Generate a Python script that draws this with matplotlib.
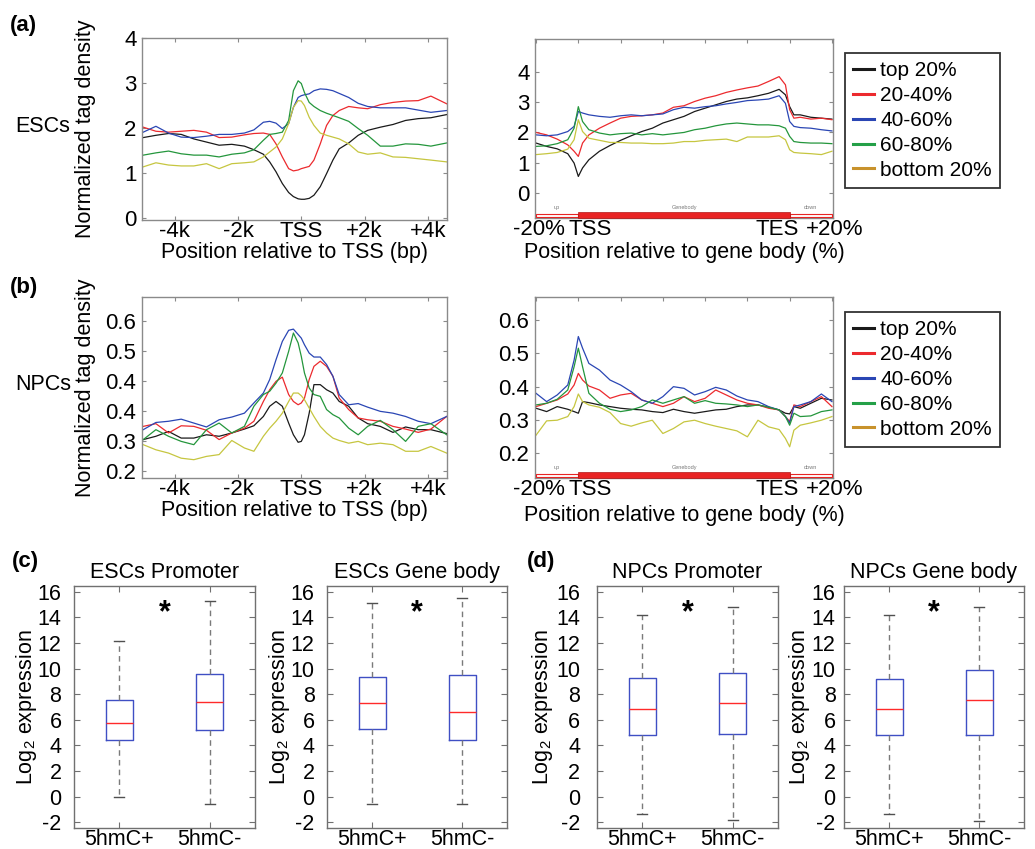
import matplotlib
matplotlib.use('Agg')
import matplotlib.pyplot as plt
from matplotlib.lines import Line2D
from matplotlib.patches import Rectangle
import matplotlib.transforms as mtransforms

plt.rcParams['font.family'] = ['Liberation Sans', 'DejaVu Sans']
plt.rcParams['mathtext.fontset'] = 'custom'
plt.rcParams['mathtext.rm'] = 'Liberation Sans'
plt.rcParams['mathtext.it'] = 'Liberation Sans:italic'
plt.rcParams['mathtext.bf'] = 'Liberation Sans:bold'
plt.rcParams['axes.unicode_minus'] = False

# ---------------- data ----------------
series_labels = ['top 20%', '20-40%', '40-60%', '60-80%', 'bottom 20%']
line_colors = ['#1a1a1a', '#ec2a2e', '#2a46b4', '#24963c', '#c6c640']
legend_colors = ['#1a1a1a', '#ec2a2e', '#2a46b4', '#24a048', '#c8922c']

# position relative to TSS (bp)
tss_pos = [-5000, -4600, -4200, -3800, -3400, -3000, -2600, -2200, -1800, -1500,
           -1200, -1000, -800, -600, -400, -250, -100, 0, 100, 250, 400, 600, 800,
           1000, 1200, 1500, 1800, 2100, 2500, 2900, 3300, 3700, 4100, 4600]
tss_ticks = [-4000, -2000, 0, 2000, 4000]
tss_ticklabels = ['-4k', '-2k', 'TSS', '+2k', '+4k']

# position relative to gene body (%)
gb_pos = [-20, -15, -10, -5, -2, 0, 2, 5, 10, 15, 20, 25, 30, 35, 40, 45, 50, 55,
          60, 65, 70, 75, 80, 85, 90, 95, 98, 100, 102, 105, 110, 115, 120]
gb_ticks = [-20, 0, 20, 40, 60, 80, 100, 120]
gb_ticklabels = ['-20%', 'TSS', '', '', '', '', 'TES', '+20%']

# ESCs, around TSS
esc_tss_top20 = [1.79, 1.84, 1.88, 1.86, 1.76, 1.69, 1.62, 1.64, 1.60, 1.52, 1.42, 1.25, 1.03, 0.77, 0.57, 0.48, 0.43,
                 0.42, 0.42, 0.44, 0.51, 0.70, 0.99, 1.29, 1.54, 1.67, 1.84, 1.95, 2.02, 2.08, 2.17, 2.21, 2.23, 2.30]
esc_tss_20_40 = [2.02, 1.93, 1.91, 1.93, 1.95, 1.91, 1.79, 1.80, 1.85, 1.88, 1.89, 1.86, 1.65, 1.36, 1.10, 1.05, 1.07,
                 1.10, 1.12, 1.15, 1.29, 1.65, 2.06, 2.28, 2.39, 2.48, 2.45, 2.43, 2.52, 2.57, 2.60, 2.61, 2.71, 2.54]
esc_tss_40_60 = [1.91, 2.04, 1.89, 1.80, 1.79, 1.82, 1.86, 1.86, 1.89, 1.96, 2.13, 2.15, 2.11, 1.99, 2.10, 2.46, 2.68,
                 2.72, 2.74, 2.76, 2.83, 2.87, 2.86, 2.83, 2.77, 2.68, 2.55, 2.48, 2.45, 2.45, 2.45, 2.40, 2.35, 2.39]
esc_tss_60_80 = [1.40, 1.45, 1.49, 1.43, 1.40, 1.40, 1.36, 1.42, 1.45, 1.52, 1.73, 1.86, 1.88, 1.91, 2.17, 2.83, 3.05,
                 2.99, 2.79, 2.57, 2.48, 2.39, 2.33, 2.28, 2.23, 2.15, 1.99, 1.84, 1.60, 1.60, 1.65, 1.64, 1.60, 1.67]
esc_tss_bottom20 = [1.14, 1.23, 1.18, 1.16, 1.16, 1.21, 1.10, 1.21, 1.23, 1.25, 1.36, 1.47, 1.58, 1.76, 2.10, 2.46, 2.61,
                    2.60, 2.50, 2.24, 2.06, 1.89, 1.84, 1.80, 1.76, 1.65, 1.47, 1.42, 1.45, 1.36, 1.35, 1.32, 1.29, 1.25]

# ESCs, gene body
esc_gb_top20 = [1.65, 1.54, 1.46, 1.30, 0.99, 0.55, 0.83, 1.10, 1.38, 1.57, 1.74, 1.89, 2.03, 2.14, 2.31, 2.42, 2.53,
                2.69, 2.80, 2.91, 3.02, 3.10, 3.14, 3.21, 3.29, 3.42, 3.24, 2.85, 2.58, 2.58, 2.50, 2.47, 2.44]
esc_gb_20_40 = [2.00, 1.92, 1.78, 1.59, 1.38, 1.21, 1.65, 1.92, 2.14, 2.31, 2.47, 2.53, 2.55, 2.58, 2.64, 2.83, 2.88,
                3.02, 3.13, 3.21, 3.32, 3.40, 3.47, 3.53, 3.68, 3.84, 3.57, 2.75, 2.47, 2.50, 2.44, 2.47, 2.42]
esc_gb_40_60 = [1.92, 1.89, 1.92, 2.03, 2.20, 2.69, 2.64, 2.58, 2.53, 2.50, 2.55, 2.58, 2.55, 2.58, 2.61, 2.75, 2.83,
                2.80, 2.85, 2.88, 2.94, 2.99, 3.05, 3.07, 3.10, 3.21, 2.96, 2.36, 2.20, 2.16, 2.14, 2.09, 2.05]
esc_gb_60_80 = [1.54, 1.56, 1.63, 1.76, 2.14, 2.85, 2.36, 2.09, 1.98, 1.92, 1.96, 1.98, 1.92, 1.96, 1.92, 1.96, 2.00,
                2.09, 2.14, 2.22, 2.28, 2.31, 2.28, 2.25, 2.25, 2.22, 2.14, 1.87, 1.70, 1.67, 1.65, 1.65, 1.63]
esc_gb_bottom20 = [1.27, 1.30, 1.34, 1.45, 1.76, 2.42, 2.03, 1.81, 1.74, 1.67, 1.67, 1.65, 1.65, 1.63, 1.63, 1.65, 1.70,
                   1.70, 1.74, 1.76, 1.78, 1.70, 1.85, 1.85, 1.85, 1.89, 1.76, 1.43, 1.34, 1.32, 1.30, 1.27, 1.38]

# NPCs, around TSS (values on the plotted axis scale)
npc_tss_top20 = [0.306, 0.317, 0.333, 0.311, 0.311, 0.322, 0.317, 0.328, 0.341, 0.352, 0.383, 0.417, 0.433, 0.417,
                 0.361, 0.322, 0.297, 0.300, 0.322, 0.394, 0.489, 0.489, 0.472, 0.461, 0.433, 0.417, 0.378, 0.359,
                 0.350, 0.330, 0.348, 0.339, 0.339, 0.326]
npc_tss_20_40 = [0.350, 0.359, 0.328, 0.352, 0.350, 0.337, 0.306, 0.328, 0.344, 0.367, 0.433, 0.472, 0.500, 0.514,
                 0.456, 0.433, 0.422, 0.428, 0.444, 0.506, 0.550, 0.567, 0.550, 0.517, 0.444, 0.406, 0.378, 0.372,
                 0.367, 0.350, 0.341, 0.330, 0.341, 0.383]
npc_tss_40_60 = [0.339, 0.363, 0.367, 0.374, 0.361, 0.348, 0.372, 0.381, 0.394, 0.428, 0.461, 0.506, 0.572, 0.633,
                 0.670, 0.674, 0.656, 0.644, 0.622, 0.594, 0.581, 0.581, 0.556, 0.517, 0.456, 0.422, 0.426, 0.414,
                 0.400, 0.394, 0.383, 0.367, 0.359, 0.383]
npc_tss_60_80 = [0.306, 0.339, 0.317, 0.300, 0.289, 0.339, 0.361, 0.328, 0.350, 0.417, 0.456, 0.467, 0.494, 0.528,
                 0.600, 0.661, 0.628, 0.583, 0.528, 0.478, 0.456, 0.450, 0.406, 0.389, 0.378, 0.344, 0.322, 0.350,
                 0.370, 0.339, 0.300, 0.350, 0.359, 0.322]
npc_tss_bottom20 = [0.289, 0.272, 0.261, 0.244, 0.239, 0.250, 0.256, 0.303, 0.278, 0.267, 0.317, 0.344, 0.367, 0.394,
                    0.433, 0.461, 0.461, 0.452, 0.439, 0.411, 0.383, 0.350, 0.328, 0.311, 0.303, 0.294, 0.300, 0.289,
                    0.294, 0.289, 0.267, 0.267, 0.283, 0.261]
npc_tss_yticks = [0.2, 0.3, 0.4, 0.5, 0.6, 0.7]
npc_tss_yticklabels = ['0.2', '0.3', '0.4', '0.4', '0.5', '0.6']

# NPCs, gene body
npc_gb_top20 = [0.335, 0.325, 0.340, 0.332, 0.325, 0.320, 0.355, 0.352, 0.345, 0.340, 0.335, 0.332, 0.330, 0.325,
                0.322, 0.332, 0.325, 0.320, 0.325, 0.330, 0.332, 0.340, 0.345, 0.345, 0.338, 0.330, 0.320, 0.318,
                0.340, 0.335, 0.350, 0.365, 0.360]
npc_gb_20_40 = [0.340, 0.350, 0.360, 0.378, 0.405, 0.440, 0.420, 0.402, 0.390, 0.365, 0.375, 0.380, 0.360, 0.350,
                0.340, 0.350, 0.370, 0.355, 0.365, 0.390, 0.375, 0.360, 0.350, 0.345, 0.335, 0.330, 0.310, 0.295,
                0.345, 0.340, 0.355, 0.370, 0.340]
npc_gb_40_60 = [0.380, 0.355, 0.375, 0.405, 0.480, 0.551, 0.516, 0.470, 0.450, 0.420, 0.405, 0.385, 0.360, 0.350,
                0.370, 0.400, 0.395, 0.375, 0.385, 0.398, 0.390, 0.372, 0.360, 0.355, 0.340, 0.330, 0.310, 0.291,
                0.340, 0.345, 0.355, 0.378, 0.355]
npc_gb_60_80 = [0.345, 0.350, 0.362, 0.390, 0.460, 0.516, 0.460, 0.380, 0.350, 0.332, 0.325, 0.330, 0.340, 0.360,
                0.350, 0.360, 0.370, 0.350, 0.358, 0.350, 0.348, 0.345, 0.340, 0.345, 0.338, 0.330, 0.310, 0.284,
                0.320, 0.310, 0.312, 0.325, 0.330]
npc_gb_bottom20 = [0.254, 0.297, 0.299, 0.310, 0.340, 0.378, 0.355, 0.345, 0.338, 0.322, 0.289, 0.281, 0.291, 0.299,
                   0.259, 0.274, 0.294, 0.299, 0.289, 0.281, 0.274, 0.267, 0.249, 0.299, 0.279, 0.271, 0.244, 0.219,
                   0.269, 0.284, 0.291, 0.299, 0.310]

# Box plots: log2 expression, groups 5hmC+ / 5hmC-
box_groups = ['5hmC+', '5hmC-']
box_titles = ['ESCs Promoter', 'ESCs Gene body', 'NPCs Promoter', 'NPCs Gene body']
box_whislo = [[0.0, -0.57], [-0.57, -0.57], [-1.36, -1.83], [-1.36, -1.91]]
box_q1 = [[4.39, 5.17], [5.25, 4.46], [4.84, 4.92], [4.84, 4.84]]
box_med = [[5.74, 7.39], [7.29, 6.61], [6.88, 7.28], [6.88, 7.51]]
box_q3 = [[7.52, 9.56], [9.35, 9.53], [9.29, 9.69], [9.16, 9.90]]
box_whishi = [[12.17, 15.30], [15.10, 15.50], [14.19, 14.84], [14.19, 14.84]]
box_yticks = [-2, 0, 2, 4, 6, 8, 10, 12, 14, 16]

# ---------------- figure ----------------
W, H = 1035, 849
fig = plt.figure(figsize=(W / 100, H / 100), dpi=100)
FS = 15.5
TFS = 16
SPINE = '#8a8a8a'


def add_ax(x0, y0, x1, y1):
    return fig.add_axes([x0 / W, 1 - y1 / H, (x1 - x0) / W, (y1 - y0) / H])


def style_line_ax(ax):
    for s in ax.spines.values():
        s.set_color(SPINE)
        s.set_linewidth(1.0)
    ax.tick_params(direction='in', length=3, width=0.8, color=SPINE, top=True, right=True,
                   labelsize=TFS, labelcolor='black')
    ax.tick_params(axis='x', pad=1)
    ax.tick_params(axis='y', pad=4)


def draw_lines(ax, x, ys):
    for y, c in zip(ys, line_colors):
        ax.plot(x, y, color=c, lw=0.9)


def draw_genebody(ax):
    tr = mtransforms.blended_transform_factory(ax.transData, ax.transAxes)
    ax.add_patch(Rectangle((-20, 0.006), 20, 0.014, transform=tr, facecolor='white',
                           edgecolor='#e82424', lw=0.8, clip_on=False, zorder=5))
    ax.add_patch(Rectangle((100, 0.006), 20, 0.014, transform=tr, facecolor='white',
                           edgecolor='#e82424', lw=0.8, clip_on=False, zorder=5))
    ax.add_patch(Rectangle((0, 0.0), 100, 0.034, transform=tr, facecolor='#e82424',
                           edgecolor='#b01818', lw=0.5, clip_on=False, zorder=5))
    for xx, t in [(-10, 'up'), (50, 'Genebody'), (110, 'down')]:
        ax.text(xx, 0.045, t, transform=tr, fontsize=4, color='#777777', ha='center', va='bottom')


def offset_gb_labels(ax):
    offs = {'-20%': 3, 'TSS': 12, 'TES': -12, '+20%': 3}
    for lab in ax.get_xticklabels():
        dx = offs.get(lab.get_text(), 0)
        lab.set_transform(lab.get_transform() + mtransforms.ScaledTranslation(dx / 100, 0, fig.dpi_scale_trans))


# (a) left
ax = add_ax(142, 38, 447, 220)
draw_lines(ax, tss_pos, [esc_tss_top20, esc_tss_20_40, esc_tss_40_60, esc_tss_60_80, esc_tss_bottom20])
ax.set_xlim(-5040, 4610)
ax.set_ylim(-0.04, 4.0)
ax.set_xticks(tss_ticks)
ax.set_xticklabels(tss_ticklabels)
ax.set_yticks([0, 1, 2, 3, 4])
style_line_ax(ax)
ax.set_xlabel('Position relative to TSS (bp)', fontsize=FS, labelpad=0)
ax.set_ylabel('Normalized tag density', fontsize=FS)
ax.yaxis.set_label_coords((96 - 142) / 305, 0.5)

# (a) right
ax = add_ax(535, 39, 833, 218)
draw_lines(ax, gb_pos, [esc_gb_top20, esc_gb_20_40, esc_gb_40_60, esc_gb_60_80, esc_gb_bottom20])
ax.set_xlim(-20.5, 120.5)
ax.set_ylim(-0.82, 5.08)
ax.set_xticks(gb_ticks)
ax.set_xticklabels(gb_ticklabels)
ax.set_yticks([0, 1, 2, 3, 4])
style_line_ax(ax)
draw_genebody(ax)
offset_gb_labels(ax)
ax.set_xlabel('Position relative to gene body (%)', fontsize=FS, labelpad=1)

# (b) left
ax = add_ax(142, 297, 447, 478)
draw_lines(ax, tss_pos, [npc_tss_top20, npc_tss_20_40, npc_tss_40_60, npc_tss_60_80, npc_tss_bottom20])
ax.set_xlim(-5040, 4610)
ax.set_ylim(0.178, 0.781)
ax.set_xticks(tss_ticks)
ax.set_xticklabels(tss_ticklabels)
ax.set_yticks(npc_tss_yticks)
ax.set_yticklabels(npc_tss_yticklabels)
style_line_ax(ax)
ax.set_xlabel('Position relative to TSS (bp)', fontsize=FS, labelpad=0)
ax.set_ylabel('Normalized tag density', fontsize=FS)
ax.yaxis.set_label_coords((96 - 142) / 305, 0.5)

# (b) right
ax = add_ax(535, 297, 833, 478)
draw_lines(ax, gb_pos, [npc_gb_top20, npc_gb_20_40, npc_gb_40_60, npc_gb_60_80, npc_gb_bottom20])
ax.set_xlim(-20.5, 120.5)
ax.set_ylim(0.125, 0.67)
ax.set_xticks(gb_ticks)
ax.set_xticklabels(gb_ticklabels)
ax.set_yticks([0.2, 0.3, 0.4, 0.5, 0.6])
style_line_ax(ax)
draw_genebody(ax)
offset_gb_labels(ax)
ax.set_xlabel('Position relative to gene body (%)', fontsize=FS, labelpad=3)

# legends
handles = [Line2D([], [], color=c, lw=2.2) for c in legend_colors]
for ytop in (53, 312):
    leg = fig.legend(handles, series_labels, loc='upper left', bbox_to_anchor=(845 / W, 1 - ytop / H),
                     bbox_transform=fig.transFigure, frameon=True, fancybox=False, fontsize=15,
                     handlelength=1.0, handletextpad=0.3, labelspacing=0.28, borderpad=0.4,
                     borderaxespad=0)
    leg.get_frame().set_edgecolor('black')
    leg.get_frame().set_linewidth(1.3)

# panel texts
fig.text(10 / W, 1 - 25 / H, '(a)', fontsize=16, fontweight='bold', va='center', ha='left')
fig.text(10 / W, 1 - 288 / H, '(b)', fontsize=16, fontweight='bold', va='center', ha='left')
fig.text(12 / W, 1 - 562 / H, '(c)', fontsize=16, fontweight='bold', va='center', ha='left')
fig.text(527 / W, 1 - 562 / H, '(d)', fontsize=16, fontweight='bold', va='center', ha='left')
fig.text(15 / W, 1 - 126 / H, 'ESCs', fontsize=FS, va='center', ha='left')
fig.text(15 / W, 1 - 385 / H, 'NPCs', fontsize=FS, va='center', ha='left')

# box plots
box_axes_px = [(74, 255, 9, 39), (327, 507, 9, 292), (597, 778, 12, 555), (844, 1024, 6, 812)]
for i, (x0, x1, ypad, ylab_right) in enumerate(box_axes_px):
    ax = add_ax(x0, 586, x1, 828)
    stats = []
    for j in range(2):
        stats.append(dict(med=box_med[i][j], q1=box_q1[i][j], q3=box_q3[i][j],
                          whislo=box_whislo[i][j], whishi=box_whishi[i][j], fliers=[]))
    ax.bxp(stats, positions=[1, 2], widths=0.3, showfliers=False, capwidths=0.11,
           boxprops=dict(color='#3f4fc4', lw=1.0),
           medianprops=dict(color='#ff2a2a', lw=1.0),
           whiskerprops=dict(color='#7a7a7a', lw=1.0, linestyle=(0, (4, 3))),
           capprops=dict(color='#505050', lw=1.0))
    ax.set_xlim(0.5, 2.5)
    ax.set_ylim(-2.45, 16.45)
    ax.set_xticks([1, 2])
    ax.set_xticklabels(box_groups)
    ax.set_yticks(box_yticks)
    for s in ax.spines.values():
        s.set_color('#707070')
        s.set_linewidth(1.0)
    ax.tick_params(direction='in', length=4, width=0.8, color='#707070', top=True, right=True,
                   labelsize=FS, labelcolor='black')
    ax.tick_params(axis='x', pad=1)
    ax.tick_params(axis='y', pad=ypad)
    ax.set_title(box_titles[i], fontsize=FS, pad=6)
    ax.set_ylabel('Log$_2$ expression', fontsize=FS)
    ax.yaxis.set_label_coords((ylab_right - x0) / (x1 - x0), 0.5)
    ax.text(1.5, 14.3, '*', fontsize=22, fontweight='bold', ha='center', va='center')

fig.savefig('out.png', dpi=100)
